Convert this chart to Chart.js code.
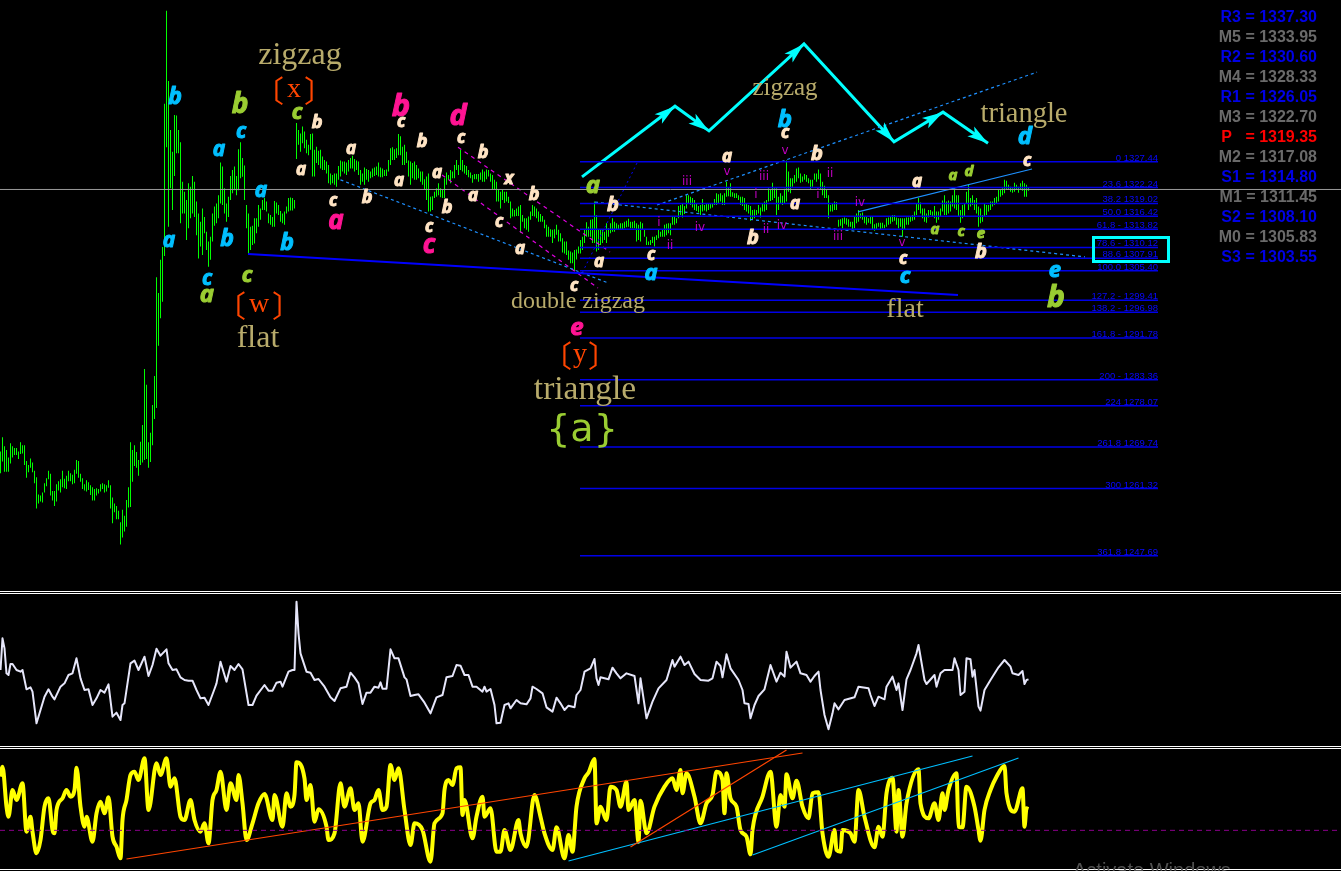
<!DOCTYPE html>
<html>
<head>
<meta charset="utf-8">
<title>XAU wave count</title>
<script src="https://cdn.jsdelivr.net/npm/chart.js@4/dist/chart.umd.min.js"></script>
<style>
  html, body { margin: 0; padding: 0; background: #000; width: 1341px; height: 871px; overflow: hidden; }
  canvas { position: absolute; left: 0; }
  .sep { position: absolute; left: 0; width: 1341px; height: 1px; background: #fff; }
  #watermark { position: absolute; left: 1073px; top: 859px; font: 20px "Liberation Sans"; color: #505050; white-space: nowrap; }
</style>
</head>
<body>
<canvas id="priceChart" width="1341" height="590" style="top:0"></canvas>
<canvas id="whiteChart" width="1341" height="152" style="top:594px"></canvas>
<canvas id="yellowChart" width="1341" height="120" style="top:749px"></canvas>
<div class="sep" style="top:591px"></div><div class="sep" style="top:593px"></div>
<div class="sep" style="top:746px"></div><div class="sep" style="top:748px"></div>
<div class="sep" style="top:869px"></div>
<div id="watermark">Activate Windows</div>
<script>
// price bars, one high and one low per bar
var barHigh = [
  1268.8,1271.7,1269.9,1269.1,1267.6,1270.5,1269.9,1269.5,1269.5,1268.8,1270.7,1270.1,1270.1,1266.9,1266.1,1267.4,1266.6,1264.9,1263.6,1260.1,
  1259.9,1260.5,1262.4,1263.4,1264.9,1264.3,1260.8,1260.8,1262.2,1262.8,1263.2,1264.9,1263.3,1263.9,1264.9,1264.4,1264.1,1265.1,1267.1,1266.9,
  1264.3,1263.4,1262.2,1263.0,1262.6,1262.0,1261.6,1261.2,1261.4,1261.2,1262.2,1262.4,1262.2,1262.0,1263.0,1262.0,1259.5,1258.3,1257.8,1256.8,
  1254.5,1257.0,1255.8,1259.0,1261.6,1270.7,1269.1,1270.1,1268.7,1267.1,1270.8,1274.2,
  1285.5,1282.3,1270.7,1272.6,1278.2,1284.1,1304.1,1300.9,1307.6,1310.2,1339.2,1358.0,1343.8,1333.9,1329.5,1336.9,1336.8,1333.9,
  1331.4,1323.4,1321.4,1319.7,1323.1,1322.4,1324.6,1323.4,1319.4,1317.0,1315.3,1318.0,1316.3,1313.3,1311.3,1312.3,1317.0,1318.4,1319.0,1320.7,
  1327.3,1326.5,1322.1,1319.0,1320.4,1324.6,1325.8,1326.5,1324.6,1330.0,1331.4,1328.2,1326.7,1318.7,1317.0,1314.3,1314.5,1316.0,1316.0,1318.7,
  1318.0,1319.7,1320.1,1319.4,1317.0,1316.7,1316.3,1319.5,1319.2,1318.7,1317.5,1317.0,1317.4,1318.4,1320.1,1320.2,1320.1,1319.7,
  1335.3,1333.9,1333.2,1334.6,1333.6,1331.9,1330.9,1333.1,1333.2,1329.9,1330.5,1329.7,1329.9,1328.5,1327.8,1327.5,1326.8,1325.1,1324.8,1325.1,
  1325.1,1326.6,1327.7,1327.5,1327.5,1327.3,1327.8,1328.2,1328.7,1328.0,1327.7,1327.5,1325.8,1325.1,1326.3,1326.0,1325.8,1325.5,1326.1,1326.3,
  1326.5,1327.3,1326.3,1326.1,1325.8,1325.9,1327.8,1330.2,1330.4,1330.0,1330.2,1333.1,1332.6,1330.5,1330.9,1329.5,1327.7,1327.5,1327.2,1327.5,
  1326.8,1326.1,1325.5,1325.5,1323.9,1324.5,1325.1,1320.4,1320.5,1321.4,1322.1,1323.1,1322.1,1321.9,1324.1,1325.3,1324.8,1325.8,1325.5,1326.8,
  1327.8,1326.8,1329.9,1327.8,1326.8,1326.6,1325.8,1325.3,1324.8,1325.0,1325.0,1325.0,1325.3,1325.9,1325.5,1325.9,1325.8,1325.1,1324.8,1323.8,
  1323.4,1321.8,1321.4,1321.8,1321.4,1321.4,1320.4,1319.4,1318.0,1317.7,1318.0,1318.4,1318.7,1316.7,1316.0,1316.0,1316.4,1317.4,1318.7,1318.4,
  1318.0,1317.4,1316.9,1316.5,1315.7,1314.7,1314.3,1313.8,1313.7,1313.8,1314.7,1313.7,1313.0,1312.0,1311.3,1311.3,1309.5,1309.3,1309.1,1309.6,
  1309.7,1310.3,1311.6,1312.3,1313.7,1315.2,1314.3,
  1315.7,1315.8,1319.4,1316.7,1313.7,1313.7,1313.7,1313.3,1315.0,1314.0,1315.0,1316.0,1315.3,1315.0,1314.7,1315.0,1315.0,1315.3,1315.5,1315.9,
  1315.3,1315.3,1315.5,1315.0,1314.7,1315.3,1315.0,1313.7,1312.3,1311.3,1311.6,1312.3,1312.3,1312.6,1313.7,1313.3,1313.8,1314.7,1314.9,1315.0,
  1315.0,1316.5,1316.5,1316.0,1318.5,1318.7,1318.9,1318.5,1320.7,1320.7,1320.4,1320.1,1319.7,1318.9,1318.5,1318.7,1319.9,1318.7,1319.1,1318.9,
  1318.9,1319.1,1319.9,1321.1,1320.9,1321.1,1320.7,1321.1,1323.4,1322.3,1323.1,1321.3,1321.1,1321.1,1320.7,1320.4,1320.4,1320.1,1318.9,1318.7,
  1318.5,1317.7,1317.8,1317.7,1318.7,1318.2,1319.1,1319.4,1319.7,1322.1,1321.9,1323.2,1322.1,1322.1,1320.4,1321.1,1320.6,1322.0,1327.7,1325.5,
  1324.1,1324.1,1324.8,1326.1,1326.3,1325.1,1324.5,1325.0,1324.8,1324.1,1323.8,1323.8,1325.1,1325.1,1325.9,1325.1,1323.4,1322.6,1321.9,1320.7,
  1318.7,1318.9,1319.4,1319.3,1315.7,1315.8,1316.0,1316.2,1316.0,1315.8,1315.3,1315.3,1316.5,1317.0,1317.7,1317.0,1317.2,1316.5,1316.5,1316.0,
  1316.5,1316.5,1314.8,1315.0,1315.1,
  1315.1,1315.1,1314.7,1316.0,1316.2,1316.5,1316.7,1316.7,1316.2,1316.0,1316.0,1316.0,1316.0,1316.2,1316.2,1316.5,1316.7,1317.4,1318.9,1320.1,
  1319.2,1318.0,1318.0,1317.0,1317.7,1317.7,1317.4,1318.5,1317.4,1317.4,1318.0,1319.6,1320.7,1319.4,1319.6,1319.4,1320.7,1322.1,1320.7,1320.7,
  1317.7,1318.7,1319.1,1321.4,1322.8,1320.1,1320.7,1319.7,1320.1,1318.4,1318.0,1316.7,1318.9,1318.7,1318.7,1319.4,1319.4,1320.1,1320.4,1321.8,
  1321.8,1322.1,1323.8,1323.6,1322.8,1322.4,1322.1,1323.2,1322.8,1322.4,1323.1,1323.6,1323.1,1322.8,1322.3
];
var barLow = [
  1264.4,1266.8,1264.7,1264.7,1264.7,1266.4,1267.6,1268.1,1268.1,1267.3,1268.3,1268.4,1266.1,1263.5,1264.6,1265.5,1264.6,1262.4,1257.3,1258.3,
  1258.7,1258.5,1260.5,1261.8,1263.2,1259.9,1258.9,1257.8,1258.7,1260.9,1260.5,1261.6,1261.4,1261.2,1262.8,1262.8,1262.2,1262.4,1264.3,1263.5,
  1262.7,1261.2,1260.9,1260.7,1261.0,1260.0,1258.9,1258.9,1259.9,1260.3,1260.7,1261.2,1260.5,1260.7,1261.5,1257.3,1254.3,1256.5,1255.1,1255.1,
  1250.0,1251.4,1252.6,1253.6,1257.5,1257.6,1262.7,1265.9,1265.5,1263.9,1266.1,1266.6,
  1267.1,1267.3,1265.5,1266.7,1270.1,1275.4,1277.6,1290.2,1295.8,1299.1,1308.4,1330.4,1314.3,1322.1,1317.7,1324.6,1329.2,1329.2,
  1315.0,1317.0,1317.0,1311.6,1314.0,1316.0,1317.0,1316.3,1312.6,1307.9,1310.3,1308.6,1313.0,1309.6,1306.2,1307.6,1311.3,1314.5,1315.0,1316.0,
  1319.0,1318.7,1317.0,1315.3,1316.3,1319.7,1321.1,1321.7,1320.7,1321.7,1324.1,1324.4,1319.7,1314.0,1308.6,1309.6,1310.6,1310.9,1313.0,1314.3,
  1315.7,1317.7,1317.7,1317.4,1315.0,1314.7,1314.3,1314.3,1317.0,1316.7,1315.3,1315.0,1314.7,1317.0,1317.4,1317.6,1317.6,1318.0,
  1328.0,1330.9,1329.5,1331.2,1330.2,1329.2,1328.8,1329.9,1324.5,1324.5,1327.2,1326.8,1326.1,1325.8,1325.8,1325.1,1323.1,1322.8,1323.1,1322.8,
  1322.4,1323.8,1324.5,1325.5,1325.1,1324.8,1325.5,1326.1,1326.1,1325.5,1325.8,1324.8,1322.8,1323.4,1322.8,1323.8,1323.4,1324.1,1324.3,1324.6,
  1324.8,1324.5,1324.3,1324.3,1324.6,1324.6,1325.5,1326.8,1327.8,1327.8,1328.2,1328.8,1328.8,1326.8,1326.8,1327.2,1324.5,1322.8,1324.1,1323.8,
  1323.8,1324.1,1323.4,1322.8,1321.8,1319.7,1317.4,1317.4,1317.7,1320.1,1320.4,1320.7,1320.3,1320.1,1320.1,1322.8,1323.8,1323.1,1324.1,1324.1,
  1325.8,1324.8,1325.8,1325.5,1325.1,1324.8,1324.3,1324.1,1323.2,1323.9,1323.9,1323.4,1323.8,1323.4,1323.4,1323.9,1324.5,1323.4,1321.8,1321.9,
  1319.4,1319.4,1318.0,1319.7,1319.1,1319.4,1319.1,1316.0,1316.4,1316.4,1316.5,1316.5,1313.1,1315.3,1314.0,1313.7,1313.3,1315.7,1316.5,1316.4,
  1316.0,1315.3,1315.3,1315.3,1314.0,1312.3,1312.3,1312.3,1311.0,1312.0,1312.7,1311.3,1311.3,1309.1,1308.9,1308.6,1307.6,1306.9,1306.9,1305.4,
  1307.7,1308.9,1308.9,1309.6,1311.0,1312.3,1312.3,
  1312.3,1311.0,1311.0,1309.3,1309.6,1310.6,1311.0,1311.6,1311.0,1312.3,1313.0,1313.3,1313.3,1313.7,1313.8,1313.9,1313.7,1314.0,1314.2,1314.3,
  1314.0,1314.0,1314.0,1311.3,1311.6,1311.3,1313.7,1312.3,1310.6,1310.6,1310.6,1311.0,1310.3,1311.6,1312.0,1312.3,1312.3,1312.3,1312.6,1313.0,
  1312.6,1314.7,1314.7,1315.0,1316.0,1316.7,1316.2,1316.9,1318.0,1319.1,1318.7,1318.2,1317.7,1317.5,1317.2,1316.7,1317.4,1317.6,1317.4,1317.7,
  1318.0,1318.2,1318.7,1318.7,1318.9,1319.4,1318.7,1318.7,1320.4,1320.5,1320.4,1320.4,1320.1,1320.1,1319.7,1318.7,1318.5,1317.7,1317.4,1317.0,
  1315.5,1315.7,1316.0,1316.7,1317.0,1316.2,1317.4,1317.4,1317.7,1319.4,1319.5,1319.7,1320.1,1316.7,1317.7,1318.9,1318.7,1319.1,1319.4,1321.4,
  1321.1,1322.4,1323.1,1323.4,1324.1,1323.2,1323.4,1323.8,1323.4,1323.1,1321.9,1322.4,1323.8,1323.4,1323.9,1321.9,1320.7,1320.1,1320.1,1316.0,
  1317.4,1317.4,1317.7,1317.7,1314.3,1314.5,1314.0,1314.9,1314.7,1314.3,1314.3,1313.7,1314.0,1315.0,1315.3,1316.0,1315.7,1315.0,1314.7,1315.1,
  1314.9,1313.7,1313.5,1313.7,1314.3,
  1313.8,1314.0,1314.0,1314.3,1314.7,1314.9,1315.3,1315.5,1314.7,1314.0,1314.3,1312.3,1313.7,1314.7,1314.7,1315.3,1315.5,1315.7,1316.7,1317.7,
  1317.0,1316.0,1315.3,1315.1,1316.2,1316.7,1316.4,1316.0,1315.1,1315.7,1316.4,1317.4,1316.7,1316.7,1317.0,1317.4,1318.4,1318.0,1317.7,1316.5,
  1315.1,1316.0,1316.4,1319.1,1317.7,1318.4,1318.7,1317.7,1317.0,1314.3,1315.0,1315.3,1316.5,1316.7,1317.4,1317.7,1318.4,1318.7,1319.1,1319.4,
  1320.4,1320.7,1321.1,1321.8,1321.9,1321.4,1321.2,1321.4,1321.8,1321.2,1321.9,1321.6,1320.4,1320.4,1321.6
];

// fibonacci levels printed on the chart
var fibLevels = ['0','23.6','38.2','50.0','61.8 -','78.6 -','88.6','100.0','127.2 -','138.2 -','161.8 -','200 -','224','261.8','300','361.8'];
var fibPrices = [1327.44,1322.24,1319.02,1316.42,1313.82,1310.12,1307.91,1305.40,1299.41,1296.98,1291.78,1283.36,1278.07,1269.74,1261.32,1247.69];

// pivot table on the right
var pivotNames = ['R3','M5','R2','M4','R1','M3','P','M2','S1','M1','S2','M0','S3'];
var pivotValues = ['1337.30','1333.95','1330.60','1328.33','1326.05','1322.70','1319.35','1317.08','1314.80','1311.45','1308.10','1305.83','1303.55'];

// lower indicators, vertices of the lines: bar number and reading
var whiteBars = [0,1,2,3,4,5,6,8,10,11,13,15,16,18,20,22,24,26,27,30,32,34,36,38,40,42,44,46,48,50,52,54,56,58,60,61,62,65,67,69,72,74,76,78,80,83,84,86,88,90,92,94,96,98,100,102,104,107,108,110,113,115,117,119,121,124,126,128,132,134,136,138,140,141,144,146,147,148,149,150,153,155,157,159,162,165,167,170,173,175,177,179,181,183,185,187,189,190,191,193,195,197,199,202,203,205,207,209,212,215,218,221,223,226,228,230,232,234,236,238,241,242,243,245,247,248,250,252,254,255,258,
  260,263,265,266,268,271,273,276,278,280,282,284,287,288,290,292,295,297,298,299,300,304,306,308,310,313,317,319,320,323,326,329,333,336,337,340,342,344,347,350,354,356,358,360,361,363,365,369,371,372,374,375,377,379,382,385,388,390,392,393,395,398,400,403,405,407,409,410,412,414,416,417,419,422,427,429,434,435,437,439,442,443,446,448,449,451,453,455,458,459,462,463,467,468,470,472,476,477,479,480,482,483,485,486,487,489,490,492,495,499,502,505,506,509,511,512,513,514];
var whiteVals = [228,323,293,218,213,246,246,228,223,228,170,176,163,68,108,148,170,148,140,178,188,213,218,263,203,168,170,123,143,168,160,185,88,100,78,123,128,248,256,228,268,210,243,292,271,290,248,228,230,206,198,196,196,168,143,145,123,171,188,253,193,240,228,246,230,123,123,151,183,166,166,190,193,178,223,228,228,433,338,278,223,220,198,201,178,146,135,173,178,220,206,188,126,160,160,178,175,191,172,172,290,263,263,206,200,150,153,155,130,98,146,153,206,210,243,241,213,213,178,178,163,178,163,171,123,68,70,123,128,113,138,
  128,125,143,178,171,158,116,103,145,128,108,121,116,153,168,223,233,261,203,183,206,200,235,218,203,218,210,128,203,83,133,173,198,258,238,268,243,253,216,198,196,203,253,240,206,275,233,198,168,128,126,83,123,150,170,243,193,220,208,283,235,253,218,213,193,210,223,168,93,50,98,128,110,138,146,178,173,153,120,148,140,178,208,168,188,108,200,228,278,303,198,186,213,178,218,228,228,263,228,153,163,263,260,208,228,118,106,168,198,236,258,238,218,213,225,186,198,200];

var yellowBars = [0,1,3,4,6,8,11,13,15,16,18,20,22,24,26,27,28,31,33,35,37,38,40,42,43,46,48,50,52,54,56,58,60,61,63,65,67,69,72,74,78,80,83,85,87,90,92,95,97,100,102,104,106,108,110,113,115,118,119,121,123,126,129,132,136,137,141,143,145,147,148,152,153,155,157,159,163,164,167,170,172,175,177,179,181,185,187,189,191,193,195,197,199,202,205,207,211,215,217,221,222,224,226,228,230,231,232,236,238,241,242,245,248,250,252,255,259,
  260,263,267,270,272,276,278,282,284,286,288,292,294,297,298,300,303,305,308,310,313,314,317,319,320,323,327,332,336,338,340,341,343,347,350,353,356,358,361,362,363,365,368,370,373,375,376,381,385,388,390,392,393,396,398,401,404,406,409,411,414,417,418,420,421,425,427,429,432,437,439,441,443,446,448,449,451,453,459,460,464,467,469,471,472,474,478,479,481,483,487,489,490,492,495,498,502,503,507,511,512,513,514];
var yellowVals = [161,191,71,41,121,91,141,-4,41,-4,-69,-29,71,96,1,-9,61,96,121,101,121,188,71,11,41,-34,51,86,51,99,-19,-49,-84,31,91,166,176,151,216,61,201,166,216,131,156,41,31,91,31,-4,21,-39,91,121,176,61,141,91,166,81,-29,21,81,109,31,106,11,111,71,106,204,156,91,136,26,63,11,-29,-9,141,71,126,61,81,-34,81,91,121,61,71,196,151,186,61,-44,21,1,-94,21,51,121,151,136,186,189,46,91,-24,41,101,41,66,-64,-64,1,-59,31,
  -9,-49,106,41,-9,-59,9,-84,-14,-64,71,156,173,214,21,71,31,131,121,71,146,61,91,-34,89,-9,71,131,156,121,181,111,171,101,21,81,106,176,151,51,171,96,71,1,-19,-72,1,101,176,11,106,71,168,96,149,71,36,111,114,-9,-79,1,-59,-64,1,-9,-34,121,41,-51,11,-19,111,158,-4,121,-19,81,183,81,36,81,31,111,61,121,171,11,9,131,71,1,-31,61,121,161,193,111,56,126,11,66,64];

// drawn lines on the chart, as bar number and price of both ends
var supportLine = [[123.75,1308.8],[478.75,1300.5]];
var dottedBlue = [
  [[170,1323.8],[304,1302.9]],
  [[297.25,1319.3],[542.25,1308.2]],
  [[328.25,1318.7],[518.25,1345.6]]
];
var dottedDark = [[291,1305.1],[318.25,1327.2]];
var solidBlue = [[428.75,1317.3],[515.75,1326.0]];
var dashedMagenta = [
  [[228.75,1330.4],[304.75,1309.2]],
  [[220.75,1324.8],[298.75,1301.9]]
];
var pathBars = [290.75,337.25,354.25,401.75,446.75,471.25,493.75];
var pathPrices = [1324.4,1338.7,1333.7,1351.3,1331.5,1337.5,1331.2];
var currentPrice = 1321.85;

// trend lines in the yellow panel
var redTrends = [[[63,-86],[401,232]],[[315,-50],[393,241]]];
var blueTrends = [[[284,-92],[486,223]],[[376,-74],[509,217]]];

// wave labels, text and where it sits on the page
var blueColor = '#00bfff', oliveColor = '#9acd32', pinkColor = '#ff1493', creamColor = '#ffe4c4', violetColor = '#c000c0', goldColor = '#b8ab6b', redColor = '#ff4500';
var waveLabels = [
  ['b',175,97,21,blueColor],['a',219,150,19,blueColor],['c',241,132,19,blueColor],['a',261,191,19,blueColor],['b',227,239,21,blueColor],
  ['a',169,241,19,blueColor],['c',207,279,19,blueColor],['b',287,243,21,blueColor],['b',785,120,22,blueColor],['a',651,274,20,blueColor],
  ['c',905,277,20,blueColor],['d',1025,137,22,blueColor],['e',1055,271,20,blueColor],
  ['b',240,105,26,oliveColor],['c',247,276,20,oliveColor],['a',207,295,22,oliveColor],['c',297,113,20,oliveColor],['a',593,186,22,oliveColor],['b',1056,298,28,oliveColor],
  ['a',953,176,13,oliveColor],['d',969,172,13,oliveColor],['a',935,230,13,oliveColor],['c',961,232,13,oliveColor],['e',981,234,13,oliveColor],
  ['b',401,107,29,pinkColor],['a',336,222,24,pinkColor],['d',458,117,27,pinkColor],['c',429,246,24,pinkColor],['e',577,328,22,pinkColor],
  ['a',301,170,15,creamColor],['b',317,123,16,creamColor],['c',333,201,15,creamColor],['a',351,149,15,creamColor],['b',367,198,16,creamColor],
  ['c',401,122,15,creamColor],['a',399,181,15,creamColor],['b',422,142,16,creamColor],['a',437,173,15,creamColor],['b',447,208,16,creamColor],
  ['c',429,227,15,creamColor],['c',461,138,15,creamColor],['b',483,153,16,creamColor],['a',473,196,15,creamColor],['c',499,222,15,creamColor],
  ['x',509,179,15,creamColor],['b',534,195,16,creamColor],['a',520,249,15,creamColor],['c',574,286,15,creamColor],['b',613,205,18,creamColor],
  ['a',599,262,15,creamColor],['c',651,255,15,creamColor],['a',727,157,15,creamColor],['b',753,238,18,creamColor],['a',795,204,15,creamColor],
  ['b',817,154,18,creamColor],['c',785,133,15,creamColor],['a',917,182,15,creamColor],['b',981,252,18,creamColor],['c',903,259,15,creamColor],['c',1027,161,15,creamColor]
];
var countLabels = [
  ['iii',687,182],['i',659,223],['ii',670,246],['iv',700,228],['v',727,172],['i',756,195],['iii',764,177],['ii',766,230],['iv',782,226],
  ['v',785,151],['i',818,195],['ii',830,174],['iii',838,237],['iv',860,203],['v',902,243]
];
var patternLabels = [
  ['zigzag',300,56,32],['flat',258,339,32],['double zigzag',578,302,24],['triangle',585,390,33.5],
  ['zigzag',785,88,25],['triangle',1024,115,28.5],['flat',905,310,28]
];
var degreeLabels = [['x',294,91,25],['w',259,306,28],['y',580,356,23]];

function pairs(xs, ys) {
  return xs.map(function (x, i) { return { x: x, y: ys[i] }; });
}
function segment(ends) {
  return ends.map(function (p) { return { x: p[0], y: p[1] }; });
}
function lineSet(ends, color, width, dash) {
  return {
    type: 'line', data: segment(ends), borderColor: color, borderWidth: width,
    borderDash: dash || [], pointRadius: 0, fill: false, tension: 0, order: 0
  };
}

var hiddenScales = function (yMin, yMax) {
  return {
    x: { type: 'linear', min: -0.25, max: 670.25, display: false, offset: false, grid: { display: false } },
    y: { type: 'linear', min: yMin, max: yMax, display: false, grid: { display: false } }
  };
};
var quietOptions = function (yMin, yMax) {
  return {
    responsive: false, animation: false, events: [],
    layout: { padding: 0 },
    scales: hiddenScales(yMin, yMax),
    plugins: { legend: { display: false }, tooltip: { enabled: false } }
  };
};

var overlay = {
  id: 'overlay',
  afterDatasetsDraw: function (chart) {
    var ctx = chart.ctx, sx = chart.scales.x, sy = chart.scales.y;
    ctx.save();

    // fibonacci captions above their lines
    ctx.font = '9.5px "Liberation Sans"';
    ctx.fillStyle = '#0808ff';
    ctx.textAlign = 'right';
    ctx.textBaseline = 'alphabetic';
    fibLevels.forEach(function (lv, i) {
      ctx.fillText(lv + ' ' + fibPrices[i].toFixed(2), 1158, sy.getPixelForValue(fibPrices[i]) - 1);
    });

    // cyan path with arrow heads
    ctx.fillStyle = '#00ffff';
    for (var k = 1; k < pathBars.length; k++) {
      var ax = sx.getPixelForValue(pathBars[k - 1]), ay = sy.getPixelForValue(pathPrices[k - 1]);
      var bx = sx.getPixelForValue(pathBars[k]), by = sy.getPixelForValue(pathPrices[k]);
      var ang = Math.atan2(by - ay, bx - ax);
      ctx.save();
      ctx.translate(bx, by);
      ctx.rotate(ang);
      ctx.beginPath();
      ctx.moveTo(0, 0);
      ctx.lineTo(-21, -6);
      ctx.lineTo(-16, 0);
      ctx.lineTo(-21, 6);
      ctx.closePath();
      ctx.fill();
      ctx.restore();
    }

    // box round the 78.6 and 88.6 captions
    ctx.strokeStyle = '#00ffff';
    ctx.lineWidth = 3;
    ctx.strokeRect(1093.5, 237.5, 75, 24);

    // labels
    ctx.textAlign = 'center';
    ctx.textBaseline = 'middle';
    ctx.lineWidth = 1;
    ctx.lineJoin = 'round';
    waveLabels.forEach(function (l) {
      ctx.font = 'italic bold ' + (l[3] + 2) + 'px "Open Sans"';
      ctx.fillStyle = l[4];
      ctx.strokeStyle = l[4];
      ctx.fillText(l[0], l[1], l[2]);
      ctx.strokeText(l[0], l[1], l[2]);
    });
    ctx.font = '12px "DejaVu Sans"';
    ctx.fillStyle = violetColor;
    countLabels.forEach(function (l) { ctx.fillText(l[0], l[1], l[2]); });
    ctx.fillStyle = goldColor;
    patternLabels.forEach(function (l) {
      ctx.font = l[3] + 'px "Liberation Serif"';
      ctx.fillText(l[0], l[1], l[2]);
    });

    // degree brackets
    ctx.fillStyle = redColor;
    degreeLabels.forEach(function (l) {
      ctx.font = '28px "Liberation Serif"';
      ctx.fillText(l[0], l[1], l[2] - 1);
      ctx.font = '30px "Noto Sans CJK SC"';
      ctx.fillText('\u3014', l[1] - l[3], l[2]);
      ctx.fillText('\u3015', l[1] + l[3], l[2]);
    });
    ctx.font = '38px "DejaVu Sans"';
    ctx.fillStyle = oliveColor;
    ctx.fillText('{a}', 582, 431);

    // pivot table
    ctx.textAlign = 'right';
    ctx.font = 'bold 16px "Liberation Sans"';
    pivotNames.forEach(function (n, i) {
      var c = n.charAt(0);
      ctx.fillStyle = c === 'P' ? '#ff0000' : (c === 'M' ? '#6a6a6a' : '#0000e6');
      ctx.fillText((c === 'P' ? 'P  ' : n) + ' = ' + pivotValues[i], 1317, 18 + i * 20);
    });
    ctx.restore();
  }
};

var priceSets = [{
  type: 'bar',
  data: barHigh.map(function (h, i) { return { x: i, y: [barLow[i], h] }; }),
  backgroundColor: '#00ff00', barThickness: 1, borderWidth: 0, inflateAmount: 0, order: 2
}];
fibPrices.forEach(function (p) {
  priceSets.push(lineSet([[289.75, p], [578.75, p]], '#0000e8', 1.5));
});
priceSets.push(lineSet([[-0.25, currentPrice], [670.25, currentPrice]], '#9a9a9a', 1));
priceSets.push(lineSet(supportLine, '#0000ff', 2));
dottedBlue.forEach(function (d) { priceSets.push(lineSet(d, '#1e90ff', 1.2, [3, 3])); });
priceSets.push(lineSet(dottedDark, '#0000ff', 1, [2, 3]));
priceSets.push(lineSet(solidBlue, '#1e90ff', 1.2));
dashedMagenta.forEach(function (d) { priceSets.push(lineSet(d, '#e000e0', 1.2, [4, 4])); });
priceSets.push({
  type: 'line', data: pairs(pathBars, pathPrices), borderColor: '#00ffff', borderWidth: 3,
  pointRadius: 0, fill: false, tension: 0, order: 0
});

new Chart(document.getElementById('priceChart').getContext('2d'), {
  type: 'bar',
  data: { datasets: priceSets },
  options: quietOptions(1240.78, 1360.2),
  plugins: [overlay]
});

new Chart(document.getElementById('whiteChart').getContext('2d'), {
  type: 'line',
  data: { datasets: [{
    data: pairs(whiteBars, whiteVals), borderColor: '#e6e6fa', borderWidth: 2, borderJoinStyle: 'round',
    pointRadius: 0, fill: false, tension: 0
  }] },
  options: quietOptions(0, 456)
});

var yellowSets = [{
  data: pairs(yellowBars, yellowVals), borderColor: '#ffff00', borderWidth: 4, borderJoinStyle: 'round',
  cubicInterpolationMode: 'monotone', pointRadius: 0, fill: false, order: 2
}];
yellowSets.push(lineSet([[-0.25, 0], [670.25, 0]], '#8b008b', 1, [5, 4]));
redTrends.forEach(function (d) { yellowSets.push(lineSet(d, redColor, 1.2)); });
blueTrends.forEach(function (d) { yellowSets.push(lineSet(d, '#00bfff', 1.2)); });

new Chart(document.getElementById('yellowChart').getContext('2d'), {
  type: 'line',
  data: { datasets: yellowSets },
  options: quietOptions(-116, 244)
});
</script>
</body>
</html>
